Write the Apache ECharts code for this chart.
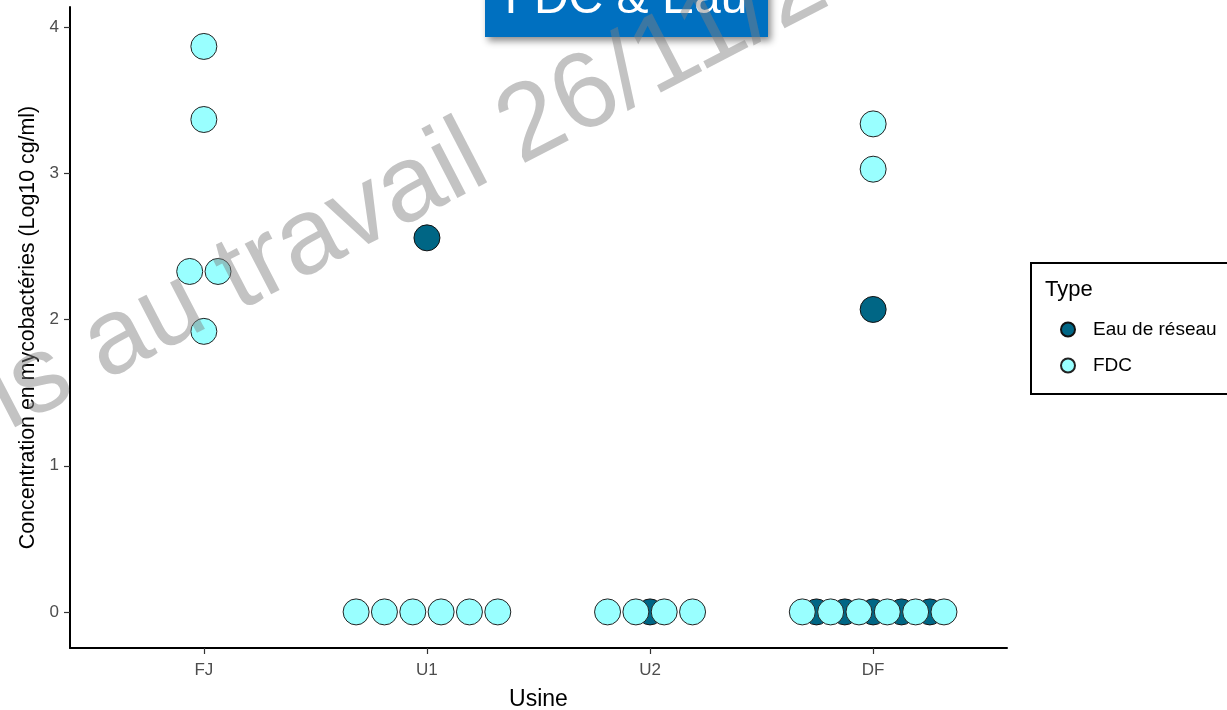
<!DOCTYPE html>
<html>
<head>
<meta charset="utf-8">
<script src="https://cdn.jsdelivr.net/npm/echarts@6.0.0/dist/echarts.min.js"></script>
<style>
  html, body { margin: 0; padding: 0; background: #fff; }
  #chart { width: 1227px; height: 710px; }
</style>
</head>
<body>
<div id="chart"></div>
<script>
// Sites (x categories) and log10 concentrations per site, one list per sample type
const categories = ['FJ', 'U1', 'U2', 'DF'];
const eauReseau = [
  [],
  [2.56],
  [0],
  [2.07, 0, 0, 0, 0, 0]
];
const fdc = [
  [3.87, 3.37, 2.33, 2.33, 1.92],
  [0, 0, 0, 0, 0, 0],
  [0, 0, 0, 0],
  [3.34, 3.03, 0, 0, 0, 0, 0, 0]
];
const yTicks = [0, 1, 2, 3, 4];
const seriesNames = ['Eau de réseau', 'FDC'];

// horizontal spacing between dots sharing the same value (in category units)
const dotStep = 0.127;

// dot-plot layout: identical values within a site are spread side by side, centred on the site
function stackDots(groups) {
  const out = [];
  groups.forEach(function (vals, i) {
    const counts = {};
    vals.forEach(function (v) { counts[v] = (counts[v] || 0) + 1; });
    Object.keys(counts).forEach(function (k) {
      const n = counts[k];
      for (let j = 0; j < n; j++) {
        out.push([i + 1 + (j - (n - 1) / 2) * dotStep, Number(k)]);
      }
    });
  });
  return out;
}

const chart = echarts.init(document.getElementById('chart'), null, { renderer: 'canvas' });
const font = 'Liberation Sans, Arial, sans-serif';

chart.setOption({
  animation: false,
  backgroundColor: '#ffffff',
  grid: { left: 70, right: 220, top: 7, bottom: 62, containLabel: false, outerBoundsMode: 'none' },
  xAxis: {
    type: 'value',
    min: 0.4,
    max: 4.6,
    name: 'Usine',
    nameLocation: 'middle',
    nameGap: 40,
    nameTextStyle: { color: '#000', fontSize: 23, fontFamily: font },
    splitLine: { show: false },
    axisLine: { show: true, onZero: false, lineStyle: { color: '#000', width: 2 } },
    axisTick: { show: true, length: 6, customValues: [1, 2, 3, 4], lineStyle: { color: '#333', width: 1.2 } },
    axisLabel: {
      customValues: [1, 2, 3, 4],
      margin: 14,
      color: '#4d4d4d',
      fontSize: 17,
      fontFamily: font,
      formatter: function (v) { return categories[Math.round(v) - 1] || ''; }
    }
  },
  yAxis: {
    type: 'value',
    min: -0.247,
    max: 4.14,
    name: 'Concentration en mycobactéries (Log10 cg/ml)',
    nameLocation: 'middle',
    nameGap: 26,
    nameTextStyle: { color: '#000', fontSize: 21.4, fontFamily: font },
    splitLine: { show: false },
    axisLine: { show: true, onZero: false, lineStyle: { color: '#000', width: 2 } },
    axisTick: { show: true, length: 6, customValues: yTicks, lineStyle: { color: '#333', width: 1.2 } },
    axisLabel: {
      customValues: yTicks,
      margin: 11,
      color: '#4d4d4d',
      fontSize: 17,
      fontFamily: font
    }
  },
  legend: {
    orient: 'vertical',
    left: 1055,
    top: 315,
    icon: 'circle',
    itemWidth: 14,
    itemHeight: 14,
    itemGap: 17,
    data: seriesNames,
    textStyle: { color: '#000', fontSize: 19, fontFamily: font, padding: [0, 0, 0, 13] }
  },
  series: [
    {
      name: seriesNames[0],
      type: 'scatter',
      symbol: 'circle',
      symbolSize: 26,
      itemStyle: { color: '#006685', borderColor: '#111', borderWidth: 1, opacity: 1 },
      data: stackDots(eauReseau),
      z: 2
    },
    {
      name: seriesNames[1],
      type: 'scatter',
      symbol: 'circle',
      symbolSize: 26,
      itemStyle: { color: '#99ffff', borderColor: '#222', borderWidth: 1, opacity: 1 },
      data: stackDots(fdc),
      z: 3
    }
  ],
  graphic: [
    // legend frame and heading
    {
      type: 'rect', z: 0, silent: true,
      shape: { x: 1031, y: 263, width: 230, height: 131 },
      style: { fill: '#fff', stroke: '#000', lineWidth: 2 }
    },
    {
      type: 'text', z: 1, silent: true, x: 1045, y: 290,
      style: { text: 'Type', fill: '#000', fontSize: 22, fontFamily: font, verticalAlign: 'middle' }
    },
    // title banner
    {
      type: 'rect', z: 50, silent: true,
      shape: { x: 485, y: -20, width: 283, height: 57 },
      style: { fill: '#0070c0', shadowBlur: 7, shadowOffsetX: 3, shadowOffsetY: 4, shadowColor: 'rgba(0,0,0,0.45)' }
    },
    {
      type: 'text', z: 51, silent: true, x: 626, y: 0,
      style: { text: 'FDC & Eau', fill: '#fff', fontSize: 48, fontFamily: font, align: 'center', verticalAlign: 'middle' }
    },
    // diagonal watermark on top of everything
    {
      type: 'text', z: 100, silent: true, x: -5, y: 404,
      rotation: 27.4 * Math.PI / 180,
      style: { text: 'is au travail 26/11/2021', fill: 'rgba(127,127,127,0.47)', fontSize: 108, fontFamily: font, align: 'left', verticalAlign: 'middle' }
    }
  ]
});
</script>
</body>
</html>
